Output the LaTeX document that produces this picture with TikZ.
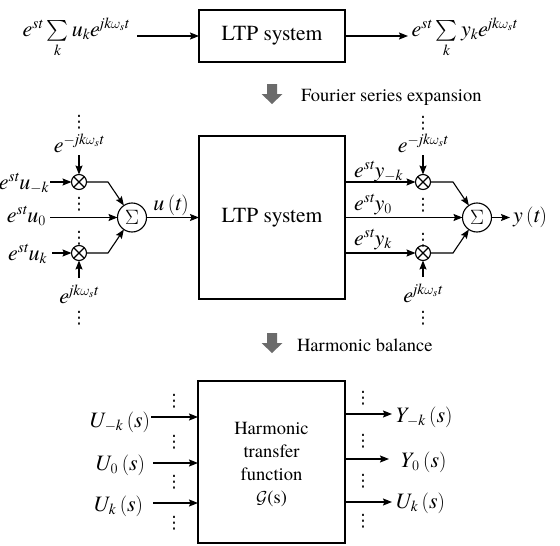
\documentclass[tikz,border=0pt]{standalone}
\usepackage{amsmath}
\usepackage{fontspec}
\IfFontExistsTF{texgyretermes-regular.otf}{%
  \setmainfont{texgyretermes}[Extension=.otf,UprightFont=*-regular,ItalicFont=*-italic,BoldFont=*-bold,BoldItalicFont=*-bolditalic]
  \newfontfamily\tnr{texgyretermes}[Extension=.otf,UprightFont=*-regular,ItalicFont=*-italic,BoldFont=*-bold,BoldItalicFont=*-bolditalic,NFSSFamily=tnr]
}{%
  \newfontfamily\tnr{lmroman10}[Extension=.otf,UprightFont=*-regular,ItalicFont=*-italic,NFSSFamily=tnr]
}
\newfontfamily\djv{DejaVu Sans}
\DeclareSymbolFont{tletters}{TU}{tnr}{m}{it}
\DeclareMathSymbol{e}{\mathalpha}{tletters}{`e}
\DeclareMathSymbol{s}{\mathalpha}{tletters}{`s}
\DeclareMathSymbol{t}{\mathalpha}{tletters}{`t}
\DeclareMathSymbol{u}{\mathalpha}{tletters}{`u}
\DeclareMathSymbol{k}{\mathalpha}{tletters}{`k}
\DeclareMathSymbol{y}{\mathalpha}{tletters}{`y}
\DeclareMathSymbol{j}{\mathalpha}{tletters}{`j}
\DeclareMathSymbol{U}{\mathalpha}{tletters}{`U}
\DeclareMathSymbol{Y}{\mathalpha}{tletters}{`Y}
\usetikzlibrary{arrows.meta}
\newcommand{\vdt}{{\djv ⋮}}
\begin{document}
\begin{tikzpicture}[x=1pt,y=-1pt,
  every node/.style={inner sep=0pt,outer sep=0pt},
  lbl/.style={font=\fontsize{22}{26}\selectfont},
  ann/.style={font=\fontsize{18.5}{23}\selectfont},
  dts/.style={font=\fontsize{17}{20}\selectfont},
  sysbox/.style={draw,line width=1.3pt,font=\fontsize{21.5}{26}\selectfont},
  conn/.style={line width=1.1pt},
  arr/.style={conn,-{Stealth[length=9pt,width=7pt,inset=1.5pt]}},
  sumc/.style={draw,circle,line width=1.1pt,minimum size=29pt,font=\fontsize{20}{22}\selectfont},
  mulc/.style={draw,circle,line width=1.1pt,minimum size=15pt},
  bigarr/.style={fill=black!58,draw=none}
]
\useasboundingbox (0,0) rectangle (560,546);

% ---------- top row ----------
\node[sysbox,minimum width=146pt,minimum height=52pt] (top) at (272,36) {LTP system};
\node[lbl,anchor=base] (tin) at (76,36) {$e^{st}\sum\limits_k u_k e^{jk\omega_s t}$};
\node[lbl,anchor=base] (tout) at (464.5,36) {$e^{st}\sum\limits_k y_k e^{jk\omega_s t}$};
\coordinate (tinA) at (137,36);
\draw[arr] (tinA) -- (top);
\coordinate (toutA) at (408,36);
\draw[arr] (top) -- (toutA);

\fill[bigarr] (267,84) -- (277,84) -- (277,94) -- (282.5,94) -- (272,104) -- (261.5,94) -- (267,94) -- cycle;
\node[ann,anchor=base west] (fse) at (301,101) {Fourier series expansion};

% ---------- middle ----------
\node[sysbox,minimum width=146pt,minimum height=163pt] (mid) at (272,217.5) {LTP system};
\node[sumc] (sL) at (132,217.5) {$\Sigma$};
\node[mulc] (mL1) at (79,182) {};
\node[mulc] (mL2) at (79,253) {};
\draw[conn] (mL1.45) -- (mL1.225) (mL1.135) -- (mL1.315);
\draw[conn] (mL2.45) -- (mL2.225) (mL2.135) -- (mL2.315);

\node[lbl,anchor=base east] (uL1) at (49,189) {$e^{st}u_{-k}$};
\node[lbl,anchor=base east] (uL0) at (46,222) {$e^{st}u_0$};
\node[lbl,anchor=base east] (uL2) at (47,260) {$e^{st}u_k$};
\coordinate (a1) at (50,182); \draw[arr] (a1) -- (mL1);
\coordinate (a0) at (50,217.5); \draw[arr] (a0) -- (sL);
\coordinate (a2) at (52,253); \draw[arr] (a2) -- (mL2);
\coordinate (c1) at (108,182); \draw[arr] (mL1) -- (c1) -- (sL);
\coordinate (c2) at (108,253); \draw[arr] (mL2) -- (c2) -- (sL);
\draw[arr] (sL) -- (mid);
\node[lbl,anchor=base] (ut) at (171,210) {$u\left(t\right)$};

\node[lbl,anchor=base] (eL1) at (79,152) {$e^{-jk\omega_s t}$};
\coordinate (v1) at (79,155); \draw[arr] (v1) -- (mL1);
\node[lbl,anchor=base] (eL2) at (79,303) {$e^{jk\omega_s t}$};
\coordinate (v2) at (79,278); \draw[arr] (v2) -- (mL2);
\node[dts] (dL1) at (79,122) {\vdt};
\node[dts] (dL2) at (79,204) {\vdt};
\node[dts] (dL3) at (79,238) {\vdt};
\node[dts] (dL4) at (79,318) {\vdt};

\node[mulc] (mR1) at (423,182) {};
\node[mulc] (mR2) at (423,253) {};
\draw[conn] (mR1.45) -- (mR1.225) (mR1.135) -- (mR1.315);
\draw[conn] (mR2.45) -- (mR2.225) (mR2.135) -- (mR2.315);
\node[sumc] (sR) at (477,217.5) {$\Sigma$};
\draw[arr] (mid.east |- mR1) -- (mR1);
\draw[arr] (mid) -- (sR);
\draw[arr] (mid.east |- mR2) -- (mR2);
\coordinate (d1) at (453,182); \draw[arr] (mR1) -- (d1) -- (sR);
\coordinate (d2) at (453,253); \draw[arr] (mR2) -- (d2) -- (sR);
\coordinate (yo) at (510,217.5); \draw[arr] (sR) -- (yo);
\node[lbl,anchor=west] (yt) at (513,217.5) {$y\left(t\right)$};
\node[lbl,anchor=base west] (yL1) at (354,177) {$e^{st}y_{-k}$};
\node[lbl,anchor=base west] (yL0) at (354,210) {$e^{st}y_0$};
\node[lbl,anchor=base west] (yL2) at (354,245) {$e^{st}y_k$};

\node[lbl,anchor=base] (eR1) at (423,152) {$e^{-jk\omega_s t}$};
\coordinate (w1) at (423,155); \draw[arr] (w1) -- (mR1);
\node[lbl,anchor=base] (eR2) at (423,302) {$e^{jk\omega_s t}$};
\coordinate (w2) at (423,277); \draw[arr] (w2) -- (mR2);
\node[dts] (dR1) at (423,123) {\vdt};
\node[dts] (dR2) at (423,205) {\vdt};
\node[dts] (dR3) at (423,240) {\vdt};
\node[dts] (dR4) at (423,318) {\vdt};

% ---------- bottom ----------
\fill[bigarr] (267,333) -- (277,333) -- (277,343) -- (282.5,343) -- (272,353) -- (261.5,343) -- (267,343) -- cycle;
\node[ann,anchor=base west] (hbl) at (297,351) {Harmonic balance};

\node[sysbox,minimum width=147pt,minimum height=162pt] (hb) at (271.5,462) {};
\node[ann,align=center] (hbt) at (271.5,465) {Harmonic\\transfer\\function\\$\mathcal{G}$(s)};

\node[lbl,anchor=base east] (U1) at (150,427) {$U_{-k}\left(s\right)$};
\node[lbl,anchor=base east] (U0) at (145,470) {$U_0\left(s\right)$};
\node[lbl,anchor=base east] (U2) at (143,511) {$U_k\left(s\right)$};
\coordinate (i1) at (151,417); \draw[arr] (i1) -- (i1 -| hb.west);
\coordinate (i0) at (153,463); \draw[arr] (i0) -- (i0 -| hb.west);
\coordinate (i2) at (153,503); \draw[arr] (i2) -- (i2 -| hb.west);

\coordinate (o1) at (392,414); \draw[arr] (hb.east |- o1) -- (o1);
\coordinate (o0) at (389,459); \draw[arr] (hb.east |- o0) -- (o0);
\coordinate (o2) at (392,502); \draw[arr] (hb.east |- o2) -- (o2);
\node[lbl,anchor=base west] (Y1) at (395,422) {$Y_{-k}\left(s\right)$};
\node[lbl,anchor=base west] (Y0) at (400,467) {$Y_0\left(s\right)$};
\node[lbl,anchor=base west] (Y2) at (395,508) {$U_k\left(s\right)$};

\node[dts] (dB1) at (174,401) {\vdt};
\node[dts] (dB2) at (174,442) {\vdt};
\node[dts] (dB3) at (174,482) {\vdt};
\node[dts] (dB4) at (174,523) {\vdt};
\node[dts] (dC1) at (363,398.5) {\vdt};
\node[dts] (dC2) at (363,441) {\vdt};
\node[dts] (dC3) at (363,481) {\vdt};
\node[dts] (dC4) at (363,521) {\vdt};
\end{tikzpicture}
\end{document}
